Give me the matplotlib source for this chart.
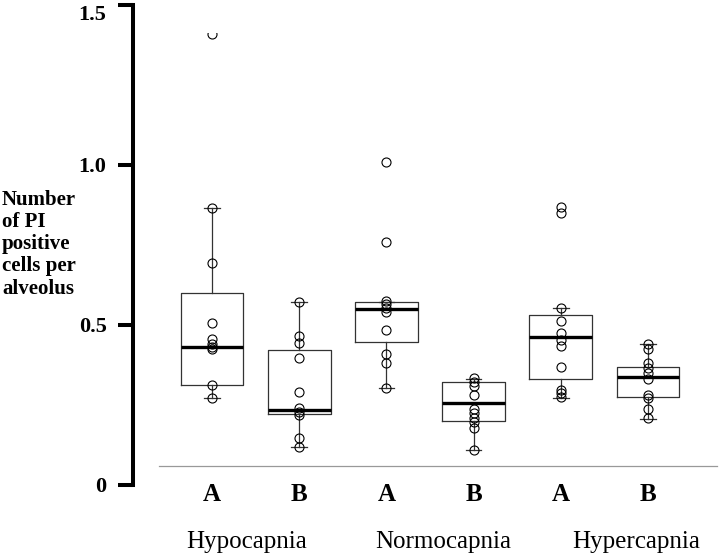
import matplotlib
matplotlib.use("Agg")
import matplotlib.pyplot as plt
from matplotlib.patches import Rectangle

# Data (number of PI positive cells per alveolus)
groups = ["Hypocapnia", "Normocapnia", "Hypercapnia"]
sub_labels = ["A", "B", "A", "B", "A", "B"]

hypo_a = [1.41, 0.867, 0.695, 0.505, 0.455, 0.44, 0.432, 0.425, 0.312, 0.273]
hypo_b = [0.571, 0.466, 0.445, 0.398, 0.292, 0.242, 0.227, 0.219, 0.146, 0.12]
normo_a = [1.01, 0.76, 0.575, 0.565, 0.554, 0.54, 0.483, 0.408, 0.380, 0.302]
normo_b = [0.333, 0.321, 0.309, 0.281, 0.236, 0.224, 0.208, 0.198, 0.179, 0.109]
hyper_a = [0.870, 0.849, 0.552, 0.512, 0.474, 0.453, 0.435, 0.368, 0.297, 0.286, 0.274]
hyper_b = [0.44, 0.424, 0.382, 0.365, 0.349, 0.330, 0.281, 0.271, 0.236, 0.208]

# box summaries as drawn in the figure: low whisker, q1, median, q3, high whisker
whis_lo = [0.273, 0.120, 0.302, 0.109, 0.273, 0.207]
q1 = [0.311, 0.221, 0.446, 0.200, 0.330, 0.276]
med = [0.432, 0.234, 0.550, 0.257, 0.463, 0.338]
q3 = [0.599, 0.421, 0.571, 0.321, 0.531, 0.368]
whis_hi = [0.867, 0.571, 0.571, 0.330, 0.552, 0.440]

baseline = 0.059

series = [hypo_a, hypo_b, normo_a, normo_b, hyper_a, hyper_b]
positions = list(range(1, len(series) + 1))

fig = plt.figure(figsize=(7.2, 5.55), dpi=100)
ax = fig.add_axes([133 / 720, 54 / 555, 587 / 720, 496 / 555])

stats = []
for i in range(len(series)):
    stats.append(dict(whislo=whis_lo[i], q1=q1[i], med=med[i], q3=q3[i], whishi=whis_hi[i]))

ax.bxp(stats, positions=positions, widths=0.72, capwidths=0.18, showfliers=False,
       boxprops=dict(color="#333333", linewidth=0.9),
       whiskerprops=dict(color="#333333", linewidth=0.9),
       capprops=dict(color="#333333", linewidth=0.9),
       medianprops=dict(color="black", linewidth=2.4))

# the plotting region of the original is cut just under the top, so the highest point shows only half
clip_box = Rectangle((0, 0), 1, 0.9435, transform=ax.transAxes, visible=False)
ax.add_patch(clip_box)
for pos, vals in zip(positions, series):
    pts, = ax.plot([pos] * len(vals), vals, linestyle="none", marker="o", markersize=6.5,
                   markerfacecolor="none", markeredgecolor="black", markeredgewidth=0.8)
    pts.set_clip_path(clip_box)

ax.plot([0.39, 6.79], [baseline, baseline], color="#999999", linewidth=0.9)

ax.set_xlim(0.094, 6.826)
ax.set_ylim(-0.05, 1.5)

for s in ["top", "right", "bottom"]:
    ax.spines[s].set_visible(False)
ax.spines["left"].set_linewidth(2.9)
ax.spines["left"].set_bounds(0, 1.5)
ax.spines["left"].set_capstyle("projecting")

ax.set_xticks([])
ax.set_yticks([0, 0.5, 1.0, 1.5])
ax.set_yticklabels(["0", "0.5", "1.0", "1.5"], fontfamily="Liberation Serif",
                   fontweight="bold", fontsize=16)
ax.tick_params(axis="y", direction="out", length=11, width=2.9, pad=8)
ax.get_yticklabels()[-1].set_verticalalignment("top")

for pos, lab in zip(positions, sub_labels):
    ax.text(pos, -0.03, lab, ha="center", va="center", fontfamily="Liberation Serif",
            fontweight="bold", fontsize=18, clip_on=False)

group_x = [0.70, 2.87, 5.13]
for gx, g in zip(group_x, groups):
    ax.text(gx, -0.197, g, ha="left", va="baseline", fontfamily="Liberation Serif",
            fontsize=18, clip_on=False)

fig.text(2 / 720, 0.56, "Number\nof PI\npositive\ncells per\nalveolus", ha="left", va="center",
         fontfamily="Liberation Serif", fontweight="bold", fontsize=15, linespacing=1.15)

fig.savefig("out.png", dpi=100)
